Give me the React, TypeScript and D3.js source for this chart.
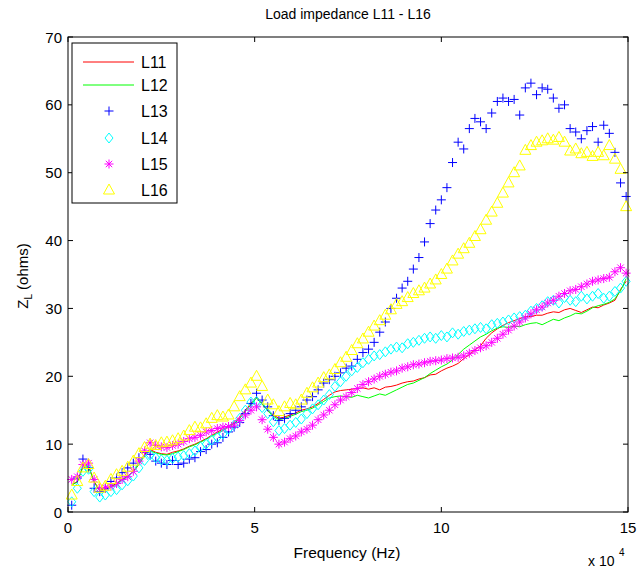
import React from "react";
import * as d3 from "d3";

// frequency samples in units of 1e4 Hz
const freq: number[] = d3.range(100).map((i) => +(0.1 + i * 0.15).toFixed(2));

const L11 = [4.0,4.5,6.8,6.8,4.5,3.2,3.4,3.8,4.2,4.8,5.3,6.0,7.2,8.5,9.2,8.8,8.6,8.5,8.8,9.0,9.3,9.7,10.0,10.4,10.8,11.3,11.8,12.2,12.6,13.2,14.0,15.0,16.0,17.0,16.0,15.0,14.3,13.8,14.0,14.3,14.6,15.0,15.2,15.5,16.0,16.6,17.2,17.7,17.9,18.0,18.1,18.2,18.3,18.1,18.3,18.0,18.4,18.5,18.7,19.0,19.2,19.3,19.6,19.8,20.2,20.3,20.8,21.2,21.5,21.9,22.6,23.2,23.9,24.5,25.6,26.4,27.0,27.5,27.9,28.2,28.5,28.8,28.8,29.0,29.0,29.3,29.5,29.4,29.8,30.0,29.7,29.4,29.8,30.2,30.1,30.5,30.8,31.2,32.8,34.0];
const L12 = [4.0,4.4,6.6,6.7,4.4,3.1,3.3,3.7,4.1,4.7,5.2,5.9,7.0,8.3,9.0,8.7,8.5,8.4,8.6,8.9,9.2,9.6,9.9,10.3,10.7,11.2,11.6,12.0,12.5,13.0,13.8,14.8,15.8,16.8,15.9,14.9,14.1,13.6,13.8,14.1,14.4,14.8,15.0,15.3,15.8,16.3,16.8,17.0,17.1,17.0,16.9,17.2,17.0,16.8,17.1,17.4,17.2,17.6,18.0,18.4,18.8,19.0,19.4,19.8,20.4,20.9,21.4,21.8,22.4,23.2,24.0,24.6,25.2,25.8,26.2,26.7,27.1,27.3,27.2,27.4,27.3,27.6,27.8,27.9,27.6,28.0,28.4,28.2,28.6,28.9,29.3,29.2,29.6,30.1,30.4,30.6,30.9,31.4,32.6,34.4];
const L13 = [1.0,5.0,7.8,6.5,3.5,3.0,3.5,4.5,5.0,5.8,6.5,7.2,8.0,8.8,8.5,7.5,7.2,7.0,7.6,7.0,7.2,7.8,8.0,8.9,9.2,10.0,10.2,11.0,11.8,12.5,13.2,14.5,16.0,17.5,16.5,15.5,14.2,13.5,13.8,14.5,15.0,15.5,16.5,17.0,18.0,19.0,19.5,20.0,20.5,21.2,21.5,22.5,23.5,24.0,25.0,26.5,28.0,30.0,31.5,33.0,34.0,35.8,37.5,39.8,42.5,44.5,46.0,47.8,51.5,54.5,53.5,56.5,58.0,57.5,56.5,58.8,60.5,61.0,60.5,60.8,58.5,62.5,63.2,61.5,62.5,62.3,61.0,59.5,60.0,56.5,56.0,55.0,56.2,56.8,54.5,57.0,55.8,53.0,48.5,46.5];
const L14 = [1.5,3.5,6.0,6.3,3.0,2.2,2.5,3.0,3.3,4.0,4.6,5.3,6.5,7.6,8.4,8.0,7.7,7.6,7.9,8.1,8.3,8.6,9.0,9.6,10.0,10.6,11.0,11.5,12.2,12.8,13.8,15.0,16.2,16.3,15.4,14.5,13.3,12.0,12.3,12.8,13.2,13.7,14.5,15.2,15.8,16.5,17.3,18.5,19.2,20.0,20.8,21.3,22.0,22.5,23.0,23.2,23.6,24.0,24.3,24.2,24.8,25.0,25.3,25.6,25.8,25.6,26.0,25.8,26.4,26.2,26.6,26.8,27.0,27.2,27.0,27.6,27.8,28.0,28.3,28.6,28.8,29.0,29.6,30.0,30.4,31.0,31.2,30.8,31.6,31.2,31.0,31.8,31.4,31.8,32.2,31.5,31.8,32.5,33.0,34.0];
const L15 = [4.8,5.2,7.0,7.2,4.8,3.5,3.6,3.8,4.2,4.8,5.2,6.0,7.5,9.0,10.2,9.8,9.6,9.5,9.8,10.0,10.4,10.8,11.0,11.3,11.8,12.0,12.3,12.5,12.6,12.8,13.5,14.3,15.0,15.5,13.6,12.2,11.0,10.0,10.3,10.8,11.2,11.8,12.2,12.8,13.6,14.3,15.0,15.8,16.5,17.0,17.6,18.2,18.8,19.2,19.6,20.0,20.3,20.6,20.8,21.2,21.4,21.7,21.8,22.0,22.2,22.3,22.4,22.6,22.7,22.8,23.0,23.4,23.8,24.2,24.5,25.0,25.6,26.2,26.8,27.4,28.0,28.6,29.2,29.8,30.2,30.8,31.2,31.8,32.2,32.6,32.8,33.2,33.6,34.0,34.2,34.4,34.6,35.4,36.0,35.2];
const L16 = [2.5,4.5,6.5,7.0,5.0,3.5,3.8,4.8,5.5,6.0,6.6,7.5,8.6,9.5,10.0,9.8,10.2,10.3,10.5,10.8,11.2,12.0,12.5,12.4,13.0,13.8,14.2,14.0,14.3,15.5,17.0,18.0,19.0,20.0,18.5,16.5,15.8,14.8,15.5,16.0,15.8,16.5,17.5,18.3,19.0,19.8,20.2,21.0,22.0,22.8,23.8,24.8,25.5,26.5,27.4,28.2,29.0,29.8,30.6,31.0,31.6,32.2,32.6,33.0,33.6,34.2,35.0,35.8,37.0,38.0,38.8,39.6,40.6,41.6,43.0,44.2,45.5,47.0,48.5,50.0,51.0,53.3,54.0,54.5,54.7,55.0,54.8,55.2,54.5,53.2,53.5,52.8,53.0,52.4,53.0,52.5,54.0,52.0,50.5,45.0];

const xTicks = [0, 5, 10, 15];
const yTicks = [0, 10, 20, 30, 40, 50, 60, 70];
const seriesNames = ["L11", "L12", "L13", "L14", "L15", "L16"];

const W = 639, H = 569;
const M = { left: 68, right: 628, top: 37, bottom: 512 };
const FONT = "'Liberation Sans', Arial, sans-serif";

type Kind = "line" | "plus" | "diamond" | "star" | "tri";

function Marker({ kind, color, x, y }: { kind: Kind; color: string; x: number; y: number }) {
  const sw = 1;
  if (kind === "plus") {
    return <path d={`M${x - 4.5},${y}H${x + 4.5}M${x},${y - 4.5}V${y + 4.5}`} stroke={color} strokeWidth={sw} fill="none" />;
  }
  if (kind === "diamond") {
    return <path d={`M${x},${y - 5}L${x + 4},${y}L${x},${y + 5}L${x - 4},${y}Z`} stroke={color} strokeWidth={sw} fill="none" />;
  }
  if (kind === "star") {
    const r = 4.5, d = 3.2;
    return <path d={`M${x - r},${y}H${x + r}M${x},${y - r}V${y + r}M${x - d},${y - d}L${x + d},${y + d}M${x - d},${y + d}L${x + d},${y - d}`} stroke={color} strokeWidth={sw} fill="none" />;
  }
  if (kind === "tri") {
    return <path d={`M${x},${y - 6}L${x + 5.5},${y + 4}L${x - 5.5},${y + 4}Z`} stroke={color} strokeWidth={sw} fill="none" />;
  }
  return null;
}

export default function App() {
  const x = d3.scaleLinear().domain([0, 15]).range([M.left, M.right]);
  const y = d3.scaleLinear().domain([0, 70]).range([M.bottom, M.top]);

  const series: { name: string; data: number[]; color: string; kind: Kind }[] = [
    { name: "L11", data: L11, color: "#ff0000", kind: "line" },
    { name: "L12", data: L12, color: "#00ff00", kind: "line" },
    { name: "L13", data: L13, color: "#0000ff", kind: "plus" },
    { name: "L14", data: L14, color: "#00ffff", kind: "diamond" },
    { name: "L15", data: L15, color: "#ff00ff", kind: "star" },
    { name: "L16", data: L16, color: "#ffff00", kind: "tri" },
  ];

  const line = d3
    .line<number>()
    .x((_, i) => x(freq[i]))
    .y((d) => y(d));

  const legendY = [62, 85, 111, 138, 164, 190];
  const tickLen = 5;

  return (
    <svg width={W} height={H} style={{ position: "absolute", left: 0, top: 0, background: "#fff" }} fontFamily={FONT}>
      <rect x={0} y={0} width={W} height={H} fill="#fff" />
      <text x={348} y={19} textAnchor="middle" fontSize={14}>Load impedance L11 - L16</text>

      <g>
        {series.map((s) =>
          s.kind === "line" ? (
            <path key={s.name} d={line(s.data) || ""} stroke={s.color} strokeWidth={1} fill="none" />
          ) : (
            <g key={s.name}>
              {s.data.map((v, i) => (
                <Marker key={i} kind={s.kind} color={s.color} x={x(freq[i])} y={y(v)} />
              ))}
            </g>
          )
        )}
      </g>

      {/* axes box */}
      <rect x={M.left} y={M.top} width={M.right - M.left} height={M.bottom - M.top} fill="none" stroke="#000" strokeWidth={1} />
      {xTicks.map((t) => (
        <g key={"xt" + t}>
          <line x1={x(t)} x2={x(t)} y1={M.bottom} y2={M.bottom - tickLen} stroke="#000" />
          <line x1={x(t)} x2={x(t)} y1={M.top} y2={M.top + tickLen} stroke="#000" />
          <text x={x(t)} y={M.bottom + 21} textAnchor="middle" fontSize={15}>{t}</text>
        </g>
      ))}
      {yTicks.map((t) => (
        <g key={"yt" + t}>
          <line x1={M.left} x2={M.left + tickLen} y1={y(t)} y2={y(t)} stroke="#000" />
          <line x1={M.right} x2={M.right - tickLen} y1={y(t)} y2={y(t)} stroke="#000" />
          <text x={M.left - 6} y={y(t) + 5.5} textAnchor="end" fontSize={15}>{t}</text>
        </g>
      ))}

      <text x={347} y={558} textAnchor="middle" fontSize={15.5}>Frequency (Hz)</text>
      <text x={588} y={566} fontSize={14}>x 10</text>
      <text x={619} y={556} fontSize={10}>4</text>

      <text transform={`translate(28,${276}) rotate(-90)`} textAnchor="middle" fontSize={15}>
        Z<tspan fontSize={10} dy={4}>L</tspan>
        <tspan dy={-4}> (ohms)</tspan>
      </text>

      {/* legend */}
      <rect x={72} y={43} width={105} height={160} fill="#fff" stroke="#000" strokeWidth={1} />
      {series.map((s, i) => (
        <g key={"lg" + s.name}>
          {s.kind === "line" ? (
            <line x1={83} x2={134} y1={legendY[i]} y2={legendY[i]} stroke={s.color} strokeWidth={1} />
          ) : (
            <Marker kind={s.kind} color={s.color} x={109} y={legendY[i]} />
          )}
          <text x={141} y={legendY[i] + 6} fontSize={16}>{seriesNames[i]}</text>
        </g>
      ))}
    </svg>
  );
}
